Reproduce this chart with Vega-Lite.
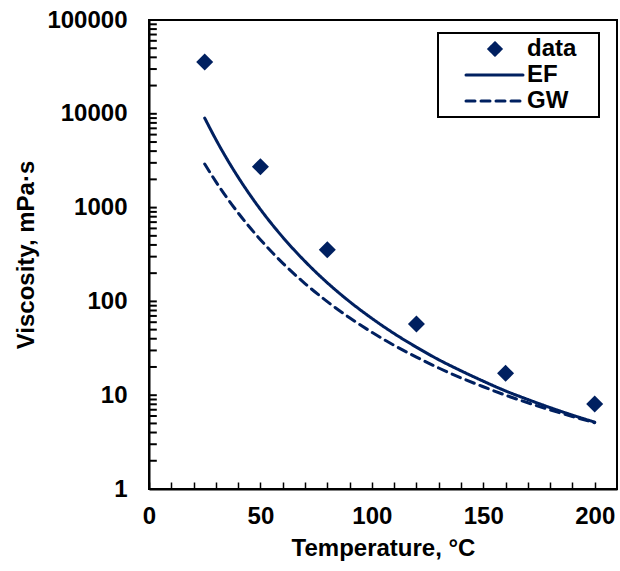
{
  "$schema": "https://vega.github.io/schema/vega-lite/v6.json",
  "width": 468,
  "height": 469,
  "autosize": "none",
  "padding": {"left": 149, "top": 20, "right": 3, "bottom": 82},
  "config": {
    "font": "Liberation Sans",
    "view": {"stroke": "black", "strokeWidth": 2},
    "axis": {"labelOverlap": false},
    "axisX": {"labelOverlap": false}
  },
  "datasets": {
    "pts": [
      {"T": 25, "V": 35600, "series": "data"},
      {"T": 50, "V": 2730, "series": "data"},
      {"T": 80, "V": 355, "series": "data"},
      {"T": 120, "V": 57.4, "series": "data"},
      {"T": 160, "V": 17.1, "series": "data"},
      {"T": 200, "V": 8.05, "series": "data"}
    ],
    "yticks": [
      {"V": 2}, {"V": 3}, {"V": 4}, {"V": 5}, {"V": 6}, {"V": 7}, {"V": 8}, {"V": 9}, {"V": 10},
      {"V": 20}, {"V": 30}, {"V": 40}, {"V": 50}, {"V": 60}, {"V": 70}, {"V": 80}, {"V": 90}, {"V": 100},
      {"V": 200}, {"V": 300}, {"V": 400}, {"V": 500}, {"V": 600}, {"V": 700}, {"V": 800}, {"V": 900}, {"V": 1000},
      {"V": 2000}, {"V": 3000}, {"V": 4000}, {"V": 5000}, {"V": 6000}, {"V": 7000}, {"V": 8000}, {"V": 9000}, {"V": 10000},
      {"V": 20000}, {"V": 30000}, {"V": 40000}, {"V": 50000}, {"V": 60000}, {"V": 70000}, {"V": 80000}, {"V": 90000}
    ],
    "curves": [
      {"T": 25, "V": 9000, "series": "EF"},
      {"T": 30, "V": 5330, "series": "EF"},
      {"T": 35, "V": 3290, "series": "EF"},
      {"T": 40, "V": 2110, "series": "EF"},
      {"T": 45, "V": 1400, "series": "EF"},
      {"T": 50, "V": 957, "series": "EF"},
      {"T": 60, "V": 484, "series": "EF"},
      {"T": 70, "V": 267, "series": "EF"},
      {"T": 80, "V": 158, "series": "EF"},
      {"T": 90, "V": 99.5, "series": "EF"},
      {"T": 100, "V": 65.9, "series": "EF"},
      {"T": 110, "V": 45.4, "series": "EF"},
      {"T": 120, "V": 32.5, "series": "EF"},
      {"T": 130, "V": 23.9, "series": "EF"},
      {"T": 140, "V": 18.2, "series": "EF"},
      {"T": 150, "V": 14.1, "series": "EF"},
      {"T": 160, "V": 11.1, "series": "EF"},
      {"T": 170, "V": 8.99, "series": "EF"},
      {"T": 180, "V": 7.37, "series": "EF"},
      {"T": 190, "V": 6.12, "series": "EF"},
      {"T": 200, "V": 5.16, "series": "EF"},
      {"T": 25, "V": 2917, "series": "GW"},
      {"T": 30, "V": 1892, "series": "GW"},
      {"T": 35, "V": 1271, "series": "GW"},
      {"T": 40, "V": 879, "series": "GW"},
      {"T": 45, "V": 625, "series": "GW"},
      {"T": 50, "V": 455, "series": "GW"},
      {"T": 60, "V": 256, "series": "GW"},
      {"T": 70, "V": 155, "series": "GW"},
      {"T": 80, "V": 99.5, "series": "GW"},
      {"T": 90, "V": 66.9, "series": "GW"},
      {"T": 100, "V": 46.9, "series": "GW"},
      {"T": 110, "V": 34.0, "series": "GW"},
      {"T": 120, "V": 25.5, "series": "GW"},
      {"T": 130, "V": 19.5, "series": "GW"},
      {"T": 140, "V": 15.3, "series": "GW"},
      {"T": 150, "V": 12.3, "series": "GW"},
      {"T": 160, "V": 10.0, "series": "GW"},
      {"T": 170, "V": 8.30, "series": "GW"},
      {"T": 180, "V": 6.97, "series": "GW"},
      {"T": 190, "V": 5.93, "series": "GW"},
      {"T": 200, "V": 5.09, "series": "GW"}
    ]
  },
  "layer": [
    {
      "data": {"name": "curves"},
      "mark": {"type": "line", "strokeWidth": 3, "strokeCap": "round", "interpolate": "monotone"},
      "encoding": {
        "x": {
          "field": "T", "type": "quantitative",
          "scale": {"domain": [0, 210], "nice": false, "zero": false},
          "axis": {
            "title": "Temperature, °C",
            "values": [0,10,20,30,40,50,60,70,80,90,100,110,120,130,140,150,160,170,180,190,200],
            "tickCount": 100,
            "labelExpr": "datum.value % 50 === 0 ? datum.label : ''",
            "labelFontSize": 24, "labelFontWeight": "bold", "labelColor": "black",
            "titleFontSize": 24, "titleFontWeight": "bold", "titleColor": "black",
            "labelPadding": 22, "titlePadding": 8,
            "tickSize": -7, "tickWidth": 1.5, "tickColor": "black",
            "domainColor": "black", "domainWidth": 2,
            "grid": false, "labelOverlap": false, "labelFlush": false
          }
        },
        "y": {
          "field": "V", "type": "quantitative",
          "scale": {"type": "log", "domain": [1, 100000], "nice": false},
          "axis": {
            "title": "Viscosity, mPa·s",
            "values": [1,10,100,1000,10000,100000],
            "format": "d",
            "ticks": false,
            "labelFontSize": 24, "labelFontWeight": "bold", "labelColor": "black",
            "titleFontSize": 24, "titleFontWeight": "bold", "titleColor": "black",
            "labelPadding": 22, "titlePadding": 8,
            "domainColor": "black", "domainWidth": 2,
            "grid": false, "labelOverlap": false, "labelFlush": false
          }
        },
        "color": {
          "field": "series", "type": "nominal",
          "scale": {"domain": ["data", "EF", "GW"], "range": ["#002060", "#002060", "#002060"]},
          "legend": {
            "title": null,
            "orient": "none",
            "legendX": 289,
            "legendY": 13,
            "strokeColor": "black",
            "padding": 4,
            "symbolOffset": 0,
            "labelFontSize": 24,
            "labelFontWeight": "bold",
            "labelColor": "black",
            "labelOffset": 61,
            "rowPadding": 2,
            "symbolStrokeWidth": 3,
            "labelExpr": "datum.label + '\u2800'",
            "encode": {
              "legend": {"update": {"strokeWidth": {"value": 2}}},
              "symbols": {
                "update": {
                  "shape": {"signal": "datum.value === 'data' ? 'M7,0L8.2,-1.2L9.4,0L8.2,1.2Z' : 'M2.4,0L13.8,0'"},
                  "fill": {"signal": "datum.value === 'data' ? '#002060' : 'transparent'"},
                  "stroke": {"signal": "datum.value === 'data' ? 'transparent' : '#002060'"},
                  "strokeDash": {"signal": "datum.value === 'GW' ? [9, 5] : [1, 0]"},
                  "strokeWidth": {"value": 3},
                  "strokeCap": {"value": "round"}
                }
              }
            }
          }
        },
        "strokeDash": {
          "field": "series", "type": "nominal",
          "scale": {"domain": ["data", "EF", "GW"], "range": [[1, 0], [1, 0], [9, 6]]},
          "legend": null
        }
      }
    },
    {
      "data": {"name": "yticks"},
      "mark": {"type": "rule", "color": "black", "strokeWidth": 2},
      "encoding": {
        "x": {"datum": 0},
        "x2": {"datum": 3.5},
        "y": {"field": "V", "type": "quantitative"}
      }
    },
    {
      "data": {"name": "pts"},
      "mark": {"type": "point", "shape": "diamond", "filled": true, "opacity": 1, "size": 289},
      "encoding": {
        "x": {"field": "T", "type": "quantitative"},
        "y": {"field": "V", "type": "quantitative"},
        "color": {"field": "series", "type": "nominal"}
      }
    },
    {
      "mark": {"type": "text", "align": "left", "baseline": "middle", "fontSize": 24, "fontWeight": "bold", "color": "black", "dy": 2},
      "encoding": {"x": {"datum": 107.5}, "y": {"datum": 3820}, "text": {"value": "M"}}
    },
    {
      "mark": {"type": "text", "align": "left", "baseline": "middle", "fontSize": 14, "fontWeight": "bold", "color": "black", "dx": 22, "dy": 10},
      "encoding": {"x": {"datum": 107.5}, "y": {"datum": 3820}, "text": {"value": "cal"}}
    },
    {
      "mark": {"type": "text", "align": "left", "baseline": "middle", "fontSize": 24, "fontWeight": "bold", "color": "black", "dx": 48, "dy": 2},
      "encoding": {"x": {"datum": 107.5}, "y": {"datum": 3820}, "text": {"value": "= 483 g/mol"}}
    },
    {
      "mark": {"type": "text", "align": "left", "baseline": "middle", "fontSize": 29, "fontWeight": "bold", "color": "black"},
      "encoding": {"x": {"datum": 10.3}, "y": {"datum": 2.6}, "text": {"value": "(a)"}}
    }
  ]
}
